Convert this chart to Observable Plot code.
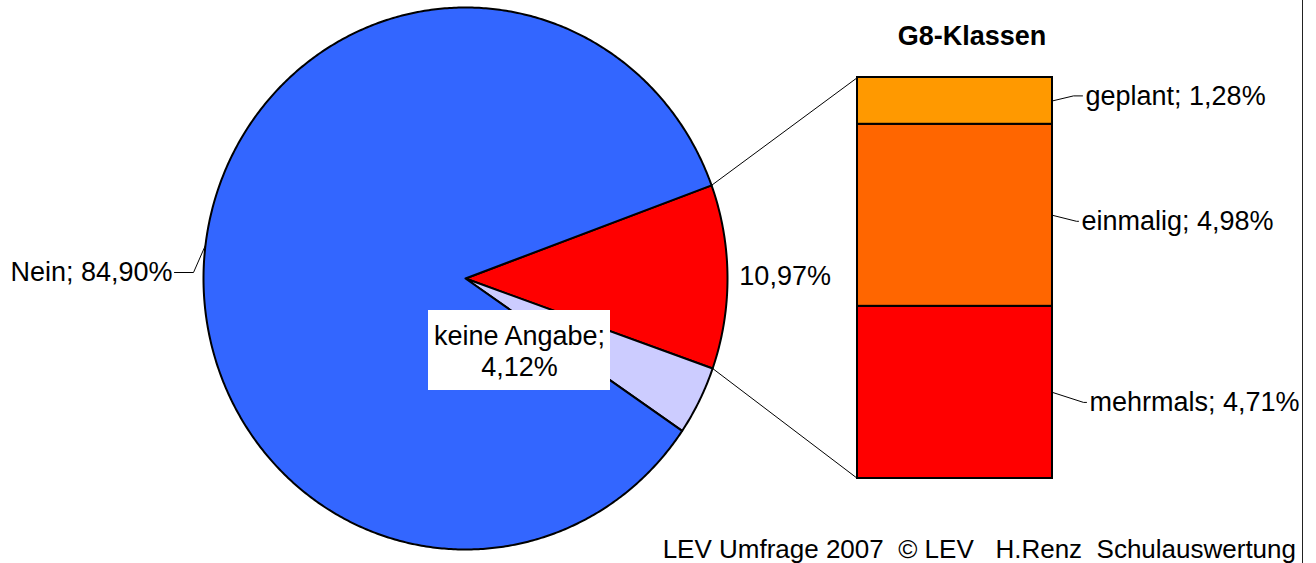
<!DOCTYPE html>
<html>
<head>
<meta charset="utf-8">
<script src="https://cdn.jsdelivr.net/npm/d3@7"></script>
<script src="https://cdn.jsdelivr.net/npm/@observablehq/plot@0.6"></script>
<style>
  body { margin: 0; background: #fff; }
  #chart { position: relative; width: 1316px; height: 563px; overflow: hidden; background: #fff;
           font-family: "Liberation Sans", Arial, sans-serif; color: #000; }
  #chart svg { position: absolute; left: 0; top: 0; background: transparent; }
  #title { position: absolute; left: 822px; top: 21px; width: 300px; text-align: center;
           font-weight: bold; font-size: 27px; line-height: 30px; }
  #footer { position: absolute; right: 20px; top: 534px; font-size: 26px; line-height: 30px; white-space: pre; }
  #border { position: absolute; left: 1302px; top: 0; width: 1px; height: 563px; background: #222; }
</style>
</head>
<body>
<div id="chart">
  <div id="title"></div>
  <div id="footer"></div>
  <div id="border"></div>
</div>
<script>
// ---------- data ----------
const pieCategories = ["Ja (G8-Klassen)", "keine Angabe", "Nein"];
const pieValues = [10.97, 4.12, 84.90];
const pieLabels = ["10,97%", "keine Angabe;\n4,12%", "Nein; 84,90%"];

const g8Categories = ["mehrmals", "einmalig", "geplant"];
const g8Values = [4.71, 4.98, 1.28];
const g8Labels = ["mehrmals; 4,71%", "einmalig; 4,98%", "geplant; 1,28%"];

const titleText = "G8-Klassen";
const footerText = "LEV Umfrage 2007  © LEV   H.Renz  Schulauswertung";

// ---------- styles ----------
const pieColors = ["#FF0000", "#CCCCFF", "#3366FF"];
const g8Colors = ["#FF0000", "#FF6600", "#FF9900"];
const FONT = '"Liberation Sans", Arial, sans-serif';

// ---------- layout ----------
const W = 1316, H = 563;
const cx = 465, cy = 278, rx = 262, ry = 271;   // pie ellipse in px
const startDeg = 69.9;                           // first slice start, clockwise from 12 o'clock
const barLeft = 857, barRight = 1052, barTop = 77, barBottom = 478;
const labelOffsetPx = [10, 6, -5];   // bar label vertical shift from segment middle
const elbowDx = [31, 24, 21];        // leader elbow distance from bar edge
const textDx = [37, 29, 33];         // label start distance from bar edge

document.getElementById("title").textContent = titleText;
document.getElementById("footer").textContent = footerText;

// ---------- bar (G8-Klassen) ----------
const g8 = g8Categories.map((c, i) => ({cat: c, value: g8Values[i], label: g8Labels[i]}));
const total = d3.sum(g8Values);
const pxPerPct = (barBottom - barTop) / total;
const barW = barRight - barLeft;
let cum = 0;
const g8Lab = g8.map((d, i) => {
  const mid = cum + d.value / 2;
  cum += d.value;
  const ly = mid - labelOffsetPx[i] / pxPerPct;
  return {...d, mid, ly, lx: 1 + textDx[i] / barW, ex: 1 + elbowDx[i] / barW};
});
const leaders = g8Lab.flatMap(d => [
  {cat: d.cat, x: 1, y: d.mid},
  {cat: d.cat, x: d.ex, y: d.ly},
  {cat: d.cat, x: d.lx - 3 / barW, y: d.ly}
]);

const barPlot = Plot.plot({
  width: W, height: H,
  marginLeft: barLeft, marginRight: W - barRight, marginTop: barTop, marginBottom: H - barBottom,
  x: {domain: [0, 1], axis: null},
  y: {domain: [0, total], axis: null},
  color: {domain: g8Categories, range: g8Colors},
  style: {background: "transparent", overflow: "visible", fontFamily: FONT},
  marks: [
    Plot.rectY(g8, {x1: d => 0, x2: d => 1, y: "value", fill: "cat", stroke: "black", strokeWidth: 2}),
    Plot.line(leaders, {x: "x", y: "y", z: "cat", stroke: "black", strokeWidth: 1}),
    Plot.text(g8Lab, {x: "lx", y: "ly", text: "label", textAnchor: "start", fontSize: 27, fill: "black"})
  ]
});

// ---------- pie ----------
function scalePx(s, v) {
  if (s.apply) return s.apply(v);
  const [d0, d1] = s.domain, [r0, r1] = s.range;
  return r0 + (v - d0) / (d1 - d0) * (r1 - r0);
}
const toUnit = (px, py) => ({x: (px - cx) / rx, y: (cy - py) / ry});

const pieData = pieCategories.map((c, i) => ({cat: c, value: pieValues[i], label: pieLabels[i], color: pieColors[i]}));
const a0 = startDeg * Math.PI / 180;
const arcs = d3.pie().sort(null).value(d => d.value).startAngle(a0).endAngle(a0 + 2 * Math.PI)(pieData);
const slices = arcs.map(a => {
  const pts = [{x: 0, y: 0}];
  const n = Math.max(4, Math.ceil((a.endAngle - a.startAngle) / (Math.PI / 360)));
  for (let k = 0; k <= n; k++) {
    const t = a.startAngle + (a.endAngle - a.startAngle) * k / n;
    pts.push({x: Math.sin(t), y: Math.cos(t)});
  }
  pts.push({x: 0, y: 0});
  return {color: a.data.color, pts};
});

// connectors from the G8 slice to the bar corners
const sx = barPlot.scale("x"), sy = barPlot.scale("y");
const cTop = toUnit(scalePx(sx, 0), scalePx(sy, total));
const cBot = toUnit(scalePx(sx, 0), scalePx(sy, 0));
const ja = arcs[0];
const connectors = [
  {k: "top", x: Math.sin(ja.startAngle), y: Math.cos(ja.startAngle)}, {k: "top", ...cTop},
  {k: "bot", x: Math.sin(ja.endAngle), y: Math.cos(ja.endAngle)}, {k: "bot", ...cBot}
];

// labels
const jaMid = (ja.startAngle + ja.endAngle) / 2;
const jaLabel = [{x: 1.22 * Math.sin(jaMid), y: 1.22 * Math.cos(jaMid), text: pieLabels[0]}];

const kaAnchor = toUnit(519, 350);
const kaHalfW = 91 / rx, kaHalfH = 40 / ry;
const kaBox = [{x1: kaAnchor.x - kaHalfW, x2: kaAnchor.x + kaHalfW, y1: kaAnchor.y - kaHalfH, y2: kaAnchor.y + kaHalfH}];
const kaLabel = [{x: kaAnchor.x, y: kaAnchor.y, text: pieLabels[1]}];

const nein = arcs[2];
const neinMid = (nein.startAngle + nein.endAngle) / 2;
const neinEdge = {x: Math.sin(neinMid), y: Math.cos(neinMid)};
const neinElbow = toUnit(193, 272);
const neinText = toUnit(174, 272);
const neinLeader = [neinEdge, neinElbow, neinText];
const neinLabel = [{x: neinText.x - 2 / rx, y: neinText.y, text: pieLabels[2]}];

const piePlot = Plot.plot({
  width: W, height: H,
  marginLeft: 0, marginRight: 0, marginTop: 0, marginBottom: 0,
  x: {domain: [-cx / rx, (W - cx) / rx], axis: null},
  y: {domain: [-(H - cy) / ry, cy / ry], axis: null},
  style: {background: "transparent", overflow: "visible", fontFamily: FONT},
  marks: [
    ...slices.map(s => Plot.line(s.pts, {x: "x", y: "y", fill: s.color, stroke: "black", strokeWidth: 2, strokeLinejoin: "round"})),
    Plot.line(connectors, {x: "x", y: "y", z: "k", stroke: "black", strokeWidth: 1}),
    Plot.line(neinLeader, {x: "x", y: "y", stroke: "black", strokeWidth: 1}),
    Plot.text(neinLabel, {x: "x", y: "y", text: "text", textAnchor: "end", fontSize: 27, fill: "black"}),
    Plot.text(jaLabel, {x: "x", y: "y", text: "text", textAnchor: "middle", fontSize: 27, fill: "black"}),
    Plot.rect(kaBox, {x1: "x1", x2: "x2", y1: "y1", y2: "y2", fill: "white"}),
    Plot.text(kaLabel, {x: "x", y: "y", text: "text", textAnchor: "middle", fontSize: 27, lineHeight: 1.15, fill: "black"})
  ]
});

const chart = document.getElementById("chart");
chart.insertBefore(barPlot, chart.firstChild);
chart.insertBefore(piePlot, chart.firstChild);
</script>
</body>
</html>
